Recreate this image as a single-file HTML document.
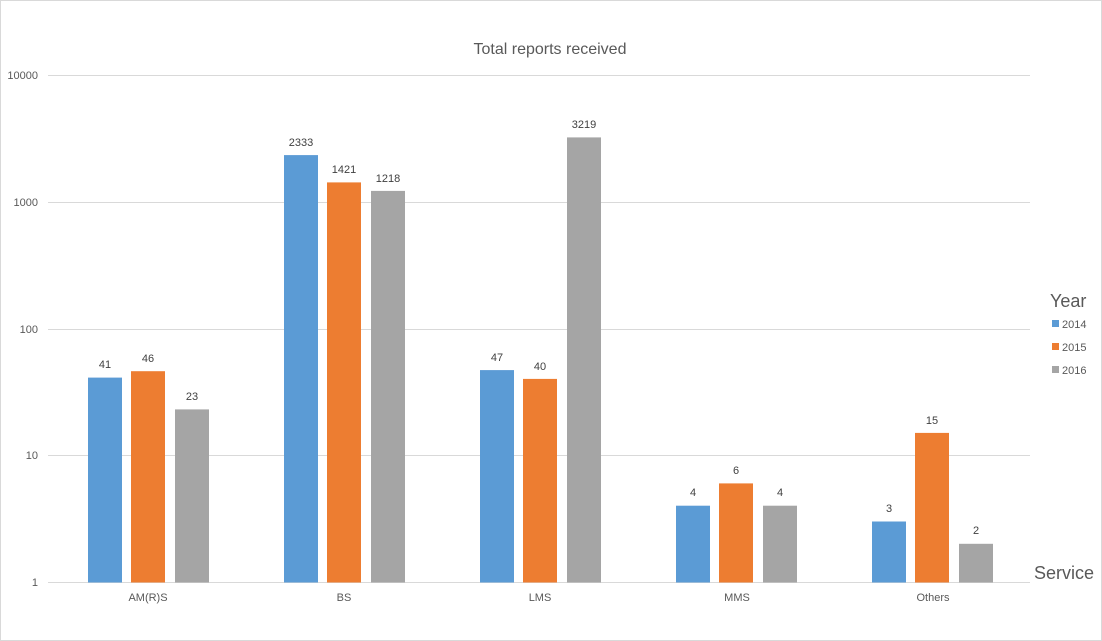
<!DOCTYPE html>
<html><head><meta charset="utf-8"><style>
html,body{margin:0;padding:0;background:#fff;}
svg{display:block;font-family:"Liberation Sans",sans-serif;}
</style></head><body>
<svg width="1102" height="641" viewBox="0 0 1102 641">
<rect x="0.5" y="0.5" width="1101" height="640" fill="#fff" stroke="#d9d9d9"/>
<text x="550" y="54" font-size="16" fill="#595959" text-anchor="middle">Total reports received</text>
<g stroke="#d9d9d9" stroke-width="1">
<line x1="48" y1="75.5" x2="1030" y2="75.5"/>
<line x1="48" y1="202.5" x2="1030" y2="202.5"/>
<line x1="48" y1="329.5" x2="1030" y2="329.5"/>
<line x1="48" y1="455.5" x2="1030" y2="455.5"/>
<line x1="48" y1="582.5" x2="1030" y2="582.5"/>
</g>
<g font-size="11" fill="#595959" text-anchor="end">
<text x="38" y="79">10000</text>
<text x="38" y="206">1000</text>
<text x="38" y="333">100</text>
<text x="38" y="459">10</text>
<text x="38" y="586">1</text>
</g>
<g>
<rect x="88" y="377.6" width="34" height="204.9" fill="#5b9bd5"/>
<rect x="131" y="371.2" width="34" height="211.3" fill="#ed7d31"/>
<rect x="175" y="409.4" width="34" height="173.1" fill="#a5a5a5"/>
<rect x="284" y="155.1" width="34" height="427.4" fill="#5b9bd5"/>
<rect x="327" y="182.4" width="34" height="400.1" fill="#ed7d31"/>
<rect x="371" y="190.9" width="34" height="391.6" fill="#a5a5a5"/>
<rect x="480" y="370.1" width="34" height="212.4" fill="#5b9bd5"/>
<rect x="523" y="378.9" width="34" height="203.6" fill="#ed7d31"/>
<rect x="567" y="137.4" width="34" height="445.1" fill="#a5a5a5"/>
<rect x="676" y="505.7" width="34" height="76.8" fill="#5b9bd5"/>
<rect x="719" y="483.4" width="34" height="99.1" fill="#ed7d31"/>
<rect x="763" y="505.7" width="34" height="76.8" fill="#a5a5a5"/>
<rect x="872" y="521.5" width="34" height="61" fill="#5b9bd5"/>
<rect x="915" y="432.9" width="34" height="149.6" fill="#ed7d31"/>
<rect x="959" y="543.8" width="34" height="38.7" fill="#a5a5a5"/>
</g>
<g font-size="11" fill="#404040" text-anchor="middle">
<text x="105" y="368">41</text><text x="148" y="362">46</text><text x="192" y="400">23</text>
<text x="301" y="146">2333</text><text x="344" y="173">1421</text><text x="388" y="182">1218</text>
<text x="497" y="361">47</text><text x="540" y="370">40</text><text x="584" y="128">3219</text>
<text x="693" y="496">4</text><text x="736" y="474">6</text><text x="780" y="496">4</text>
<text x="889" y="512">3</text><text x="932" y="424">15</text><text x="976" y="534">2</text>
</g>
<g font-size="11" fill="#595959" text-anchor="middle">
<text x="148" y="601">AM(R)S</text><text x="344" y="601">BS</text><text x="540" y="601">LMS</text>
<text x="737" y="601">MMS</text><text x="933" y="601">Others</text>
</g>
<text x="1034" y="579" font-size="18" fill="#595959">Service</text>
<text x="1050" y="307" font-size="18" fill="#595959">Year</text>
<rect x="1052" y="320" width="7" height="7" fill="#5b9bd5"/>
<rect x="1052" y="343" width="7" height="7" fill="#ed7d31"/>
<rect x="1052" y="366" width="7" height="7" fill="#a5a5a5"/>
<g font-size="11" fill="#595959">
<text x="1062" y="328">2014</text><text x="1062" y="351">2015</text><text x="1062" y="374">2016</text>
</g>
</svg>
</body></html>
